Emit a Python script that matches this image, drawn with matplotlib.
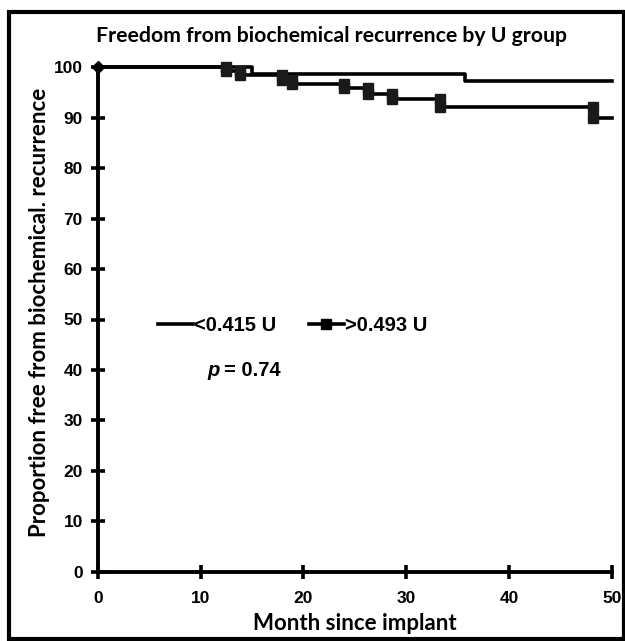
import numpy as np
import matplotlib
matplotlib.use("Agg")
import matplotlib.pyplot as plt
from matplotlib.patches import Rectangle

# ---- data ----
low_u_times = [0, 15.0, 35.7, 50]
low_u_surv = [100, 98.6, 97.3, 97.3]
high_u_times = [0, 12.5, 13.8, 17.9, 18.9, 23.9, 26.3, 28.6, 33.3, 48.2, 50]
high_u_surv = [100, 99.3, 98.5, 97.5, 96.7, 95.9, 94.8, 93.8, 92.1, 89.9, 89.9]
series_labels = ["<0.415 U", ">0.493 U"]
x_ticks = [0, 10, 20, 30, 40, 50]
y_ticks = [0, 10, 20, 30, 40, 50, 60, 70, 80, 90, 100]
title = "Freedom from biochemical recurrence by U group"
xlabel = "Month since implant"
ylabel = "Proportion free from biochemical. recurrence"
p_text_value = "0.74"

W, H = 625, 641
fig = plt.figure(figsize=(W / 100, H / 100), dpi=100)
ax = fig.add_axes([97.7 / W, 1 - 571.7 / H, (612 - 97.7) / W, (571.7 - 67.3) / H])

lw = 2.6
ax.step(low_u_times, low_u_surv, where="post", color="black", lw=lw,
        clip_on=False, zorder=3)
ax.step(high_u_times, high_u_surv, where="post", color="black", lw=lw,
        clip_on=False, zorder=3)

# markers at the corners of each step of the high-U curve
ht = np.array(high_u_times[1:-1])
before = np.array(high_u_surv[:-2])
after = np.array(high_u_surv[1:-1])
mx = np.concatenate([ht, ht])
my = np.concatenate([before, after])
ax.plot(mx, my, ls="none", marker="s", ms=7.2, color="#1a1a1a",
        clip_on=False, zorder=4)
ax.plot([high_u_times[0]], [high_u_surv[0]], ls="none", marker="D", ms=6,
        color="black", clip_on=False, zorder=4)

# legend proxies
h1, = ax.plot([], [], color="black", lw=lw, label=series_labels[0])
h2, = ax.plot([], [], color="black", lw=lw, marker="s", ms=6.5,
              label=series_labels[1])
leg = ax.legend(handles=[h1, h2], loc="center left",
                bbox_to_anchor=(0.117, 0.488), ncol=2, frameon=False,
                borderpad=0, borderaxespad=0, handlelength=1.75,
                handletextpad=0.05, columnspacing=1.6, numpoints=1,
                prop={"family": "Liberation Sans", "weight": "bold", "size": 14.5})

ax.text(0.213, 0.399, "p", transform=ax.transAxes,
        fontfamily="Liberation Sans", fontweight="bold", fontstyle="italic",
        fontsize=14.5, va="center", ha="left")
ax.text(0.246, 0.399, "= " + p_text_value, transform=ax.transAxes,
        fontfamily="Liberation Sans", fontweight="bold",
        fontsize=14.5, va="center", ha="left")

ax.set_xlim(0, 50)
ax.set_ylim(0, 100)
ax.set_xticks(x_ticks)
ax.set_yticks(y_ticks)
for s in ["top", "right"]:
    ax.spines[s].set_visible(False)
for s in ["left", "bottom"]:
    ax.spines[s].set_linewidth(2.8)
ax.tick_params(direction="inout", length=9.5, width=2.6)
ax.tick_params(axis="y", pad=6)
ax.tick_params(axis="x", pad=9)
for lab in ax.get_xticklabels() + ax.get_yticklabels():
    lab.set_fontfamily("Liberation Sans")
    lab.set_fontweight("bold")
    lab.set_fontsize(12.5)

fig.text(332 / W, 1 - 36 / H, title, ha="center", va="center",
         fontfamily="Lato", fontweight="bold", fontsize=15.3)
fig.text(355 / W, 1 - 623 / H, xlabel, ha="center", va="center",
         fontfamily="Lato", fontweight="bold", fontsize=16)
fig.text(40 / W, 1 - 312 / H, ylabel, ha="center", va="center", rotation=90,
         fontfamily="Lato", fontweight="bold", fontsize=16)

fig.patches.append(Rectangle((9 / W, 1 - 639 / H), (623.5 - 9) / W, (639 - 12) / H,
                             transform=fig.transFigure,
                             fill=False, lw=3.0, edgecolor="black"))

fig.savefig("out.png", dpi=100)
